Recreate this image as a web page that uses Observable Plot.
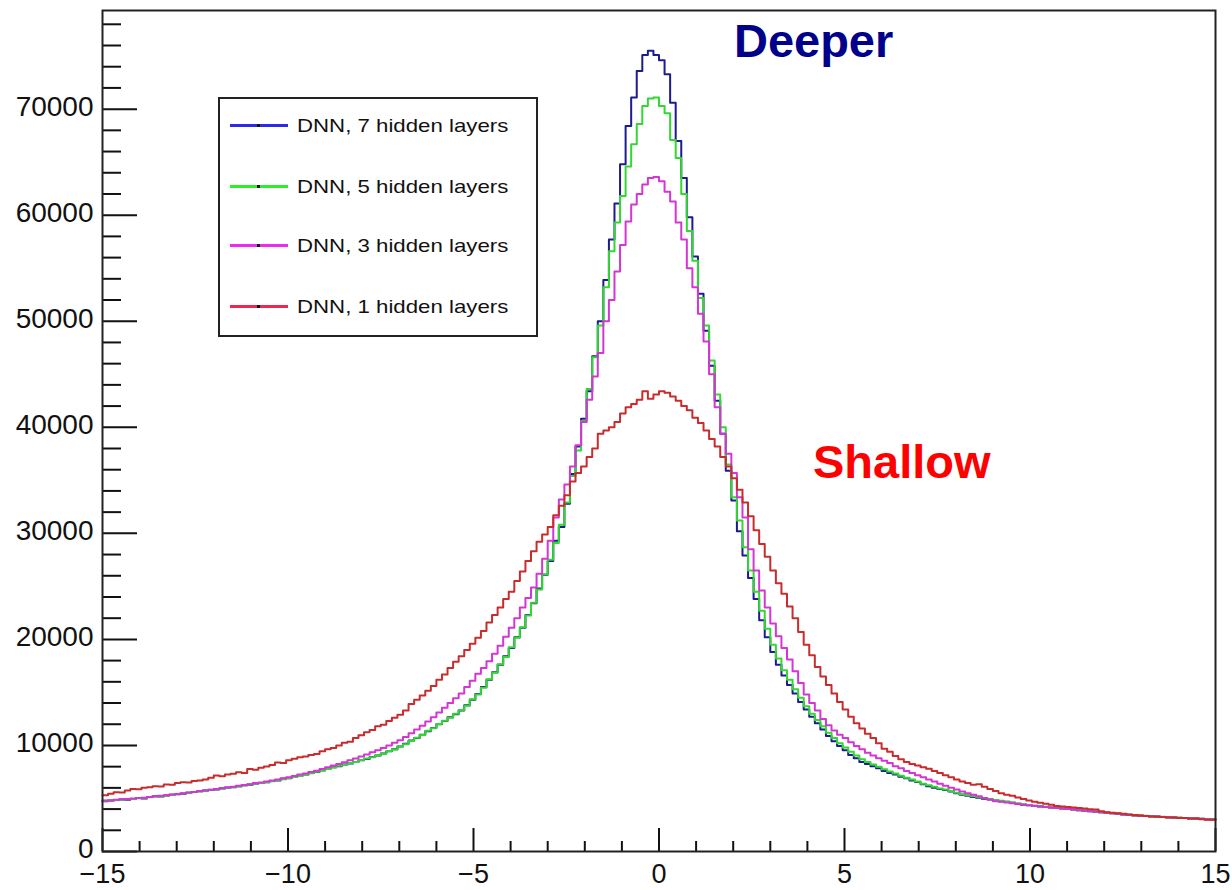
<!DOCTYPE html>
<html><head><meta charset="utf-8">
<script src="https://cdn.jsdelivr.net/npm/d3@7"></script>
<script src="https://cdn.jsdelivr.net/npm/@observablehq/plot@0.6"></script>
<style>
html,body{margin:0;padding:0;background:#fff;}
#wrap{position:relative;width:1232px;height:890px;font-family:"Liberation Sans",Arial,sans-serif;}
#legend{position:absolute;left:218px;top:97px;width:320px;height:240px;border:2px solid #222;background:#fff;box-sizing:border-box;}
.row{position:absolute;left:0;height:24px;width:100%;}
.seg{position:absolute;left:10px;top:10px;width:58px;height:3px;}
.dot{position:absolute;left:27px;top:0px;width:3px;height:3px;background:#111;}
.lab{position:absolute;left:77px;top:0px;font-size:19px;line-height:24px;color:#111;white-space:nowrap;transform:scaleX(1.17);transform-origin:left center;}
</style>
</head><body>
<div id="wrap"><div id="chart"></div><div id="legend"></div></div>
<script>
// Histogram binning: 200 bins over [-15, 15]
const binLow = -15, binWidth = 0.15;

const seriesNames = ["DNN, 7 hidden layers", "DNN, 5 hidden layers", "DNN, 3 hidden layers", "DNN, 1 hidden layers"];
const lineColors = ["#1c1c8e", "#33d633", "#d436d4", "#c82c2c"];
const legendColors = ["#2a2aee", "#2aee2a", "#ee2aee", "#f02850"];

const xMajor = [-15, -10, -5, 0, 5, 10, 15];
const xTickLabels = ["\u221215", "\u221210", "\u22125", "0", "5", "10", "15"];
const xMinor = [-14,-13,-12,-11,-9,-8,-7,-6,-4,-3,-2,-1,1,2,3,4,6,7,8,9,11,12,13,14];
const yMajor = [0, 10000, 20000, 30000, 40000, 50000, 60000, 70000];
const yTickLabels = ["0", "10000", "20000", "30000", "40000", "50000", "60000", "70000"];
const yMinor = [2000,4000,6000,8000,12000,14000,16000,18000,22000,24000,26000,28000,32000,34000,36000,38000,42000,44000,46000,48000,52000,54000,56000,58000,62000,64000,66000,68000,72000,74000,76000,78000];

const dnn7 = [
4750,4800,4850,4900,4880,4960,5050,5000,5150,5200,5180,5280,5350,5400,5450,5550,5600,5680,5750,5800,
5850,5950,6000,6060,6150,6250,6300,6400,6450,6530,6650,6700,6850,6900,7050,7160,7250,7400,7500,7650,
7800,7950,8050,8200,8300,8450,8600,8730,8900,9050,9250,9450,9650,9900,10150,10460,10700,11000,11350,11650,
12000,12300,12650,12950,13300,13800,14300,14850,15500,16200,16900,17600,18400,19200,20200,21100,22300,23400,24800,26100,
27400,29300,30600,32800,35600,38200,40800,43400,46700,50000,53900,57700,61100,64800,68400,71100,73600,75100,75500,75100,
74600,73300,70600,67000,63500,59800,56100,52600,49100,45800,42500,39400,35900,33100,30200,27900,25800,23800,21800,20200,
18800,17600,16600,15700,14900,14100,13400,12700,12100,11500,10900,10400,9950,9550,9100,8800,8450,8250,8050,7850,
7600,7400,7250,7050,6900,6700,6550,6350,6150,6000,5900,5800,5650,5500,5350,5250,5150,5050,4950,4900,
4820,4750,4680,4600,4500,4420,4350,4300,4250,4200,4150,4100,4050,4000,3950,3900,3850,3800,3750,3700,
3650,3600,3550,3500,3450,3400,3380,3350,3320,3300,3250,3230,3200,3180,3150,3120,3100,3080,3050,3030];

const dnn5 = [
4780,4820,4830,4880,4920,4950,5020,5050,5120,5180,5220,5260,5330,5420,5460,5520,5620,5660,5720,5820,
5880,5920,6020,6080,6120,6230,6320,6380,6470,6520,6620,6720,6820,6930,7020,7150,7230,7380,7520,7620,
7780,7920,8080,8180,8320,8430,8620,8760,8880,9080,9220,9480,9620,9920,10120,10420,10720,10980,11380,11620,
12020,12320,12620,13000,13350,13750,14350,14800,15450,16250,16850,17650,18350,19250,20150,21150,22250,23450,24700,26150,
27500,29100,30800,32900,35400,37800,40600,43600,46600,49600,53200,56600,59300,61800,64600,66700,68600,70300,71000,71100,
70300,69600,67100,65400,62000,58500,55700,52200,49600,46300,43100,40000,36500,33400,31200,28700,26500,24500,22700,21000,
19500,18200,17100,16200,15300,14500,13700,13000,12400,11800,11200,10700,10200,9800,9400,9050,8700,8450,8200,8000,
7750,7550,7350,7150,6950,6800,6600,6400,6250,6100,5950,5850,5700,5550,5400,5300,5200,5100,5000,4920,
4850,4780,4700,4620,4530,4450,4380,4320,4260,4210,4160,4110,4060,4010,3960,3910,3860,3810,3760,3710,
3660,3610,3560,3510,3460,3420,3390,3360,3330,3300,3270,3240,3210,3190,3160,3130,3110,3090,3060,3040];

const dnn3 = [
4800,4820,4870,4920,4950,5000,5050,5080,5150,5220,5250,5300,5380,5420,5500,5560,5620,5700,5760,5820,
5900,5980,6050,6100,6200,6280,6350,6450,6500,6600,6700,6780,6900,7000,7120,7250,7350,7500,7620,7780,
7950,8100,8250,8420,8600,8780,8950,9150,9350,9550,9750,10000,10250,10500,10800,11150,11500,11850,12250,12650,
13100,13550,14000,14450,14900,15500,16100,16750,17300,17950,18650,19400,20250,21100,22000,23000,23900,24900,26200,27600,
29300,31500,33200,34600,36300,38300,40500,42600,44800,47000,50000,52000,54700,57200,59400,61000,62000,62900,63500,63600,
63200,62200,61300,59300,57700,55000,53200,50700,48100,45000,41900,39400,37500,35700,33400,31500,28500,26500,24600,23000,
21500,20300,19200,18100,17000,15900,14800,14000,13300,12500,11900,11400,11000,10700,10300,9950,9650,9300,9050,8800,
8550,8350,8050,7850,7600,7400,7200,7000,6800,6600,6400,6200,6000,5850,5650,5500,5350,5200,5050,4900,
4750,4680,4620,4560,4480,4420,4350,4310,4260,4200,4160,4110,4060,4010,3960,3900,3860,3800,3760,3700,
3660,3600,3560,3500,3460,3410,3380,3350,3310,3290,3250,3240,3200,3170,3150,3120,3100,3070,3050,3020];

const dnn1 = [
5300,5450,5590,5560,5750,5900,5870,6000,6060,6150,6120,6310,6300,6450,6530,6500,6640,6690,6800,6950,
7160,7100,7250,7320,7480,7400,7790,7700,7900,8010,8150,8400,8350,8600,8750,8880,8950,9100,9200,9450,
9650,9770,10000,10250,10360,10700,10950,11240,11450,11800,11950,12300,12600,12900,13300,13900,14300,14700,15150,15600,
16200,16700,17300,17900,18400,19000,19600,20150,20800,21600,22300,23000,23800,24500,25500,26400,27400,28300,29200,29900,
30600,31700,32600,33600,34900,35700,36300,37200,38000,39400,39700,40000,40500,41300,41900,42200,42600,43400,42700,43100,
43400,43250,42900,42500,42000,41600,40900,40400,39700,38900,38200,37200,36300,35200,34100,32900,31600,30300,29000,27800,
26500,25300,24300,23100,22000,20700,19500,18500,17400,16500,15700,14900,14100,13400,12700,12100,11600,11100,10700,10200,
9700,9400,9000,8700,8450,8250,8100,7950,7800,7600,7400,7200,7000,6800,6600,6450,6300,6350,6100,5900,
5700,5500,5350,5250,5100,4950,4800,4700,4600,4500,4400,4300,4250,4200,4150,4100,4050,3980,3950,3800,
3700,3650,3600,3550,3500,3450,3400,3350,3300,3280,3250,3200,3200,3150,3150,3100,3100,3050,3000,3000];

const seriesValues = [dnn7, dnn5, dnn3, dnn1];

function toSteps(values) {
  const pts = values.map((v, i) => ({x: binLow + i * binWidth, y: v}));
  pts.push({x: binLow + values.length * binWidth, y: values[values.length - 1]});
  return pts;
}

const xLab = new Map(xMajor.map((v, i) => [v, xTickLabels[i]]));
const yLab = new Map(yMajor.map((v, i) => [v, yTickLabels[i]]));

const chart = Plot.plot({
  width: 1232,
  height: 890,
  marginLeft: 102,
  marginRight: 17,
  marginTop: 10,
  marginBottom: 39,
  x: {domain: [-15, 15], label: null},
  y: {domain: [0, 79300], label: null},
  style: {fontFamily: "'Liberation Sans', Arial, sans-serif", background: "#fff", color: "#111"},
  marks: [
    ...seriesValues.map((vals, k) => Plot.line(toSteps(vals), {x: "x", y: "y", stroke: lineColors[k], strokeWidth: 2, curve: "step-after"})),
    Plot.axisX({ticks: xMinor, anchor: "bottom", tickSize: -10, tickFormat: () => "", strokeWidth: 2, stroke: "#111", label: null}),
    Plot.axisX({ticks: xMajor, anchor: "bottom", tickSize: -23, tickFormat: () => "", strokeWidth: 2, stroke: "#111", label: null}),
    Plot.axisX({ticks: xMajor, anchor: "bottom", tickSize: 0, tickPadding: 12, tickFormat: d => xLab.get(d), fontSize: 27, fill: "#111", label: null}),
    Plot.axisY({ticks: yMinor, anchor: "left", tickSize: -19, tickFormat: () => "", strokeWidth: 2, stroke: "#111", label: null}),
    Plot.axisY({ticks: yMajor, anchor: "left", tickSize: -35, tickFormat: () => "", strokeWidth: 2, stroke: "#111", label: null}),
    Plot.axisY({ticks: yMajor, anchor: "left", tickSize: 0, tickPadding: 9, dy: -2, tickFormat: d => yLab.get(d), fontSize: 28, fill: "#111", label: null}),
    Plot.text(["Deeper"], {x: 2.02, y: 74900, text: d => d, textAnchor: "start", lineAnchor: "bottom", fontSize: 47, fontWeight: "bold", fill: "#00008b"}),
    Plot.text(["Shallow"], {x: 4.15, y: 35200, text: d => d, textAnchor: "start", lineAnchor: "bottom", fontSize: 47, fontWeight: "bold", fill: "#ff0000"}),
    Plot.frame({stroke: "#222", strokeWidth: 2})
  ]
});
document.getElementById("chart").appendChild(chart);

const legend = document.getElementById("legend");
const rowCenters = [27, 88, 147, 208];
seriesNames.forEach((name, k) => {
  const row = document.createElement("div");
  row.className = "row";
  row.style.top = (rowCenters[k] - 12) + "px";
  const seg = document.createElement("div");
  seg.className = "seg";
  seg.style.background = legendColors[k];
  const dot = document.createElement("div");
  dot.className = "dot";
  seg.appendChild(dot);
  const lab = document.createElement("div");
  lab.className = "lab";
  lab.textContent = name;
  row.appendChild(seg);
  row.appendChild(lab);
  legend.appendChild(row);
});
</script>
</body></html>
